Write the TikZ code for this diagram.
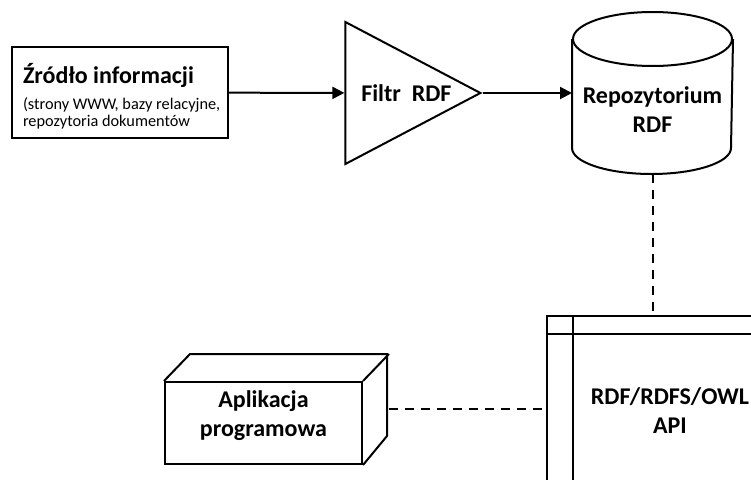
\documentclass[tikz,border=0pt]{standalone}
\usepackage{fontspec}
\setmainfont{Carlito}
\usetikzlibrary{shapes.geometric,arrows.meta,calc}

\begin{document}
\begin{tikzpicture}
      [
        x = 1pt, y = -1pt,
        line width = 2pt,
        font = \fontsize{24}{29}\selectfont\bfseries,
        box/.style = {draw, rectangle, inner sep = 0pt},
        link/.style = {-{Triangle[length = 12pt, width = 12pt]}},
        dep/.style = {dash pattern = on 9pt off 7pt},
      ]

      \useasboundingbox (0,0) rectangle (751,479);
      \clip (0,0) rectangle (751,479);

      \node[box, minimum width = 216pt, minimum height = 91pt] (zrodlo) at (120,92.5) {};
      \node[align = left, anchor = west, inner sep = 0pt, font = \fontsize{16.3}{17.5}\selectfont] (zrodlotext)
        at ($(zrodlo.west)+(11,4)$)
        {{\fontsize{24}{29}\selectfont\bfseries Źródło informacji}\\[8pt]
         (strony WWW, bazy relacyjne,\\repozytoria dokumentów};

      \node[draw, isosceles triangle, isosceles triangle stretches, shape border rotate = 0,
            minimum width = 142pt, minimum height = 135pt, inner sep = 0pt, anchor = apex] (filtr) at (483,93) {\hspace{10pt}Filtr~~RDF};

      \node[minimum width = 159pt, minimum height = 126pt, inner sep = 0pt, align = center] (repo) at (652.5,110) {Repozytorium\\RDF};
      \draw ($(repo.north west)+(0,-7)$) -- ($(repo.south west)+(0,-26)$)
        arc[start angle = 180, end angle = 360, x radius = 79.5pt, y radius = 26pt] -- ($(repo.north east)+(0,-7)$);
      \draw ($(repo.north)+(0,-7)$) ellipse[x radius = 79.5pt, y radius = 27pt];

      \node[box, minimum width = 246pt, minimum height = 190pt, align = center] (api) at (670,411) {RDF/RDFS/OWL\\API};
      \draw ([yshift = -19pt]api.north west) -- ([yshift = -19pt]api.north east);
      \draw ([xshift = 27pt]api.north west) -- ([xshift = 27pt]api.south west);

      \node[box, minimum width = 197pt, minimum height = 82pt] (app) at (263.5,423) {};
      \node[align = center] (apptext) at ($(app)+(0,-7)$) {Aplikacja\\programowa};
      \draw (app.north west) -- ++(26,-27) -- ++(197,0) -- ++(0,82) -- (app.south east);
      \draw (app.north east) -- ++(26,-27);
      \coordinate (appside) at ($(app.east)+(26,-14)$);

      \draw[link] (zrodlo) -- (filtr);
      \draw[link] (filtr.apex) -- (filtr.apex -| repo.west);
      \draw[dep] (repo.south) -- (repo.south |- api.north);
      \draw[dep] (appside) -- (appside -| api.west);
    \end{tikzpicture}
\end{document}
